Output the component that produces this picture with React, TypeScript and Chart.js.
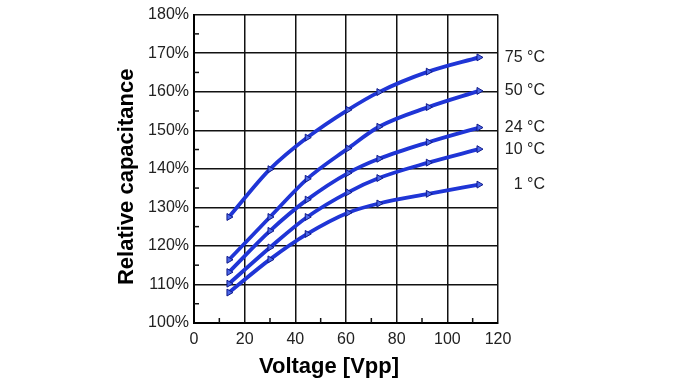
import React, { useEffect, useRef } from "react";
import { Chart, registerables } from "chart.js";

Chart.register(...registerables);

const voltages = [13.8, 30, 44.7, 60.8, 73, 92.5, 112.5];
const seriesLabels = ["75 °C", "50 °C", "24 °C", "10 °C", "1 °C"];
const cap75 = [127.5, 139.9, 148.1, 155.3, 159.9, 165.2, 168.9];
const cap50 = [116.4, 127.5, 137.4, 145.3, 150.9, 156.0, 160.2];
const cap24 = [113.2, 123.9, 132.0, 138.9, 142.6, 146.9, 150.7];
const cap10 = [110.2, 119.6, 127.5, 133.9, 137.6, 141.6, 145.1];
const cap1 = [107.9, 116.5, 123.1, 128.6, 131.0, 133.5, 135.9];
const allSeries = [cap75, cap50, cap24, cap10, cap1];

const xTitle = "Voltage [Vpp]";
const yTitle = "Relative capacitance";
const FONT = "'Liberation Sans', Arial, sans-serif";

export default function App() {
  const ref = useRef<HTMLCanvasElement | null>(null);

  useEffect(() => {
    if (!ref.current) return;

    const decor = {
      id: "decor",
      afterDraw(chart: any) {
        const { ctx, chartArea: a, scales } = chart;
        const xs = scales.x;
        const ys = scales.y;
        ctx.save();
        // minor ticks
        ctx.strokeStyle = "#111";
        ctx.lineWidth = 1.5;
        for (let v = 105; v < 180; v += 10) {
          const py = ys.getPixelForValue(v);
          ctx.beginPath();
          ctx.moveTo(a.left, py);
          ctx.lineTo(a.left + 5, py);
          ctx.stroke();
        }
        for (let v = 10; v < 120; v += 20) {
          const px = xs.getPixelForValue(v);
          ctx.beginPath();
          ctx.moveTo(px, a.bottom);
          ctx.lineTo(px, a.bottom - 5);
          ctx.stroke();
        }
        // series labels at the right
        ctx.fillStyle = "#222";
        ctx.font = `16px ${FONT}`;
        ctx.textAlign = "right";
        ctx.textBaseline = "middle";
        chart.data.datasets.forEach((ds: any) => {
          const last = ds.data[ds.data.length - 1];
          ctx.fillText(ds.label, a.right + 47, ys.getPixelForValue(last.y));
        });
        // axis titles
        ctx.fillStyle = "#000";
        ctx.font = `bold 22px ${FONT}`;
        ctx.textAlign = "center";
        ctx.textBaseline = "middle";
        ctx.fillText(xTitle, (a.left + a.right) / 2 - 17, a.bottom + 44);
        ctx.translate(a.left - 67, (a.top + a.bottom) / 2 + 8);
        ctx.rotate(-Math.PI / 2);
        ctx.fillText(yTitle, 0, 0);
        ctx.restore();
      },
    };

    const chart = new Chart(ref.current, {
      type: "line",
      data: {
        datasets: allSeries.map((s, i) => ({
          label: seriesLabels[i],
          data: s.map((y, j) => ({ x: voltages[j], y })),
          borderColor: "#1f35d6",
          borderWidth: 3.8,
          cubicInterpolationMode: "monotone" as const,
          pointStyle: "triangle",
          rotation: 90,
          pointRadius: 4,
          pointBackgroundColor: "#4a66e8",
          pointBorderColor: "#101a8a",
          pointBorderWidth: 1,
          fill: false,
        })),
      },
      options: {
        responsive: false,
        animation: false,
        layout: { padding: { left: 0, right: 182, top: 12, bottom: 0 } },
        plugins: {
          legend: { display: false },
          tooltip: { enabled: false },
          title: { display: false },
        },
        scales: {
          x: {
            type: "linear",
            min: 0,
            max: 120,
            afterFit: (s: any) => {
              s.height = 60;
            },
            ticks: {
              stepSize: 20,
              padding: 7,
              color: "#222",
              font: { family: FONT, size: 16 },
            },
            grid: { color: "#111", lineWidth: 1.5, drawTicks: false },
            border: { color: "#000", width: 2 },
          },
          y: {
            type: "linear",
            min: 100,
            max: 180,
            afterFit: (s: any) => {
              s.width = 194;
            },
            ticks: {
              stepSize: 10,
              padding: 5,
              color: "#222",
              font: { family: FONT, size: 16 },
              callback: (v: any) => `${v}%`,
            },
            grid: { color: "#111", lineWidth: 1.5, drawTicks: false },
            border: { color: "#000", width: 2 },
          },
        },
      },
      plugins: [decor],
    });
    return () => chart.destroy();
  }, []);

  return (
    <div style={{ position: "fixed", left: 0, top: 0, width: 680, height: 383, background: "#fff" }}>
      <canvas ref={ref} width={680} height={383} style={{ display: "block" }} />
    </div>
  );
}
